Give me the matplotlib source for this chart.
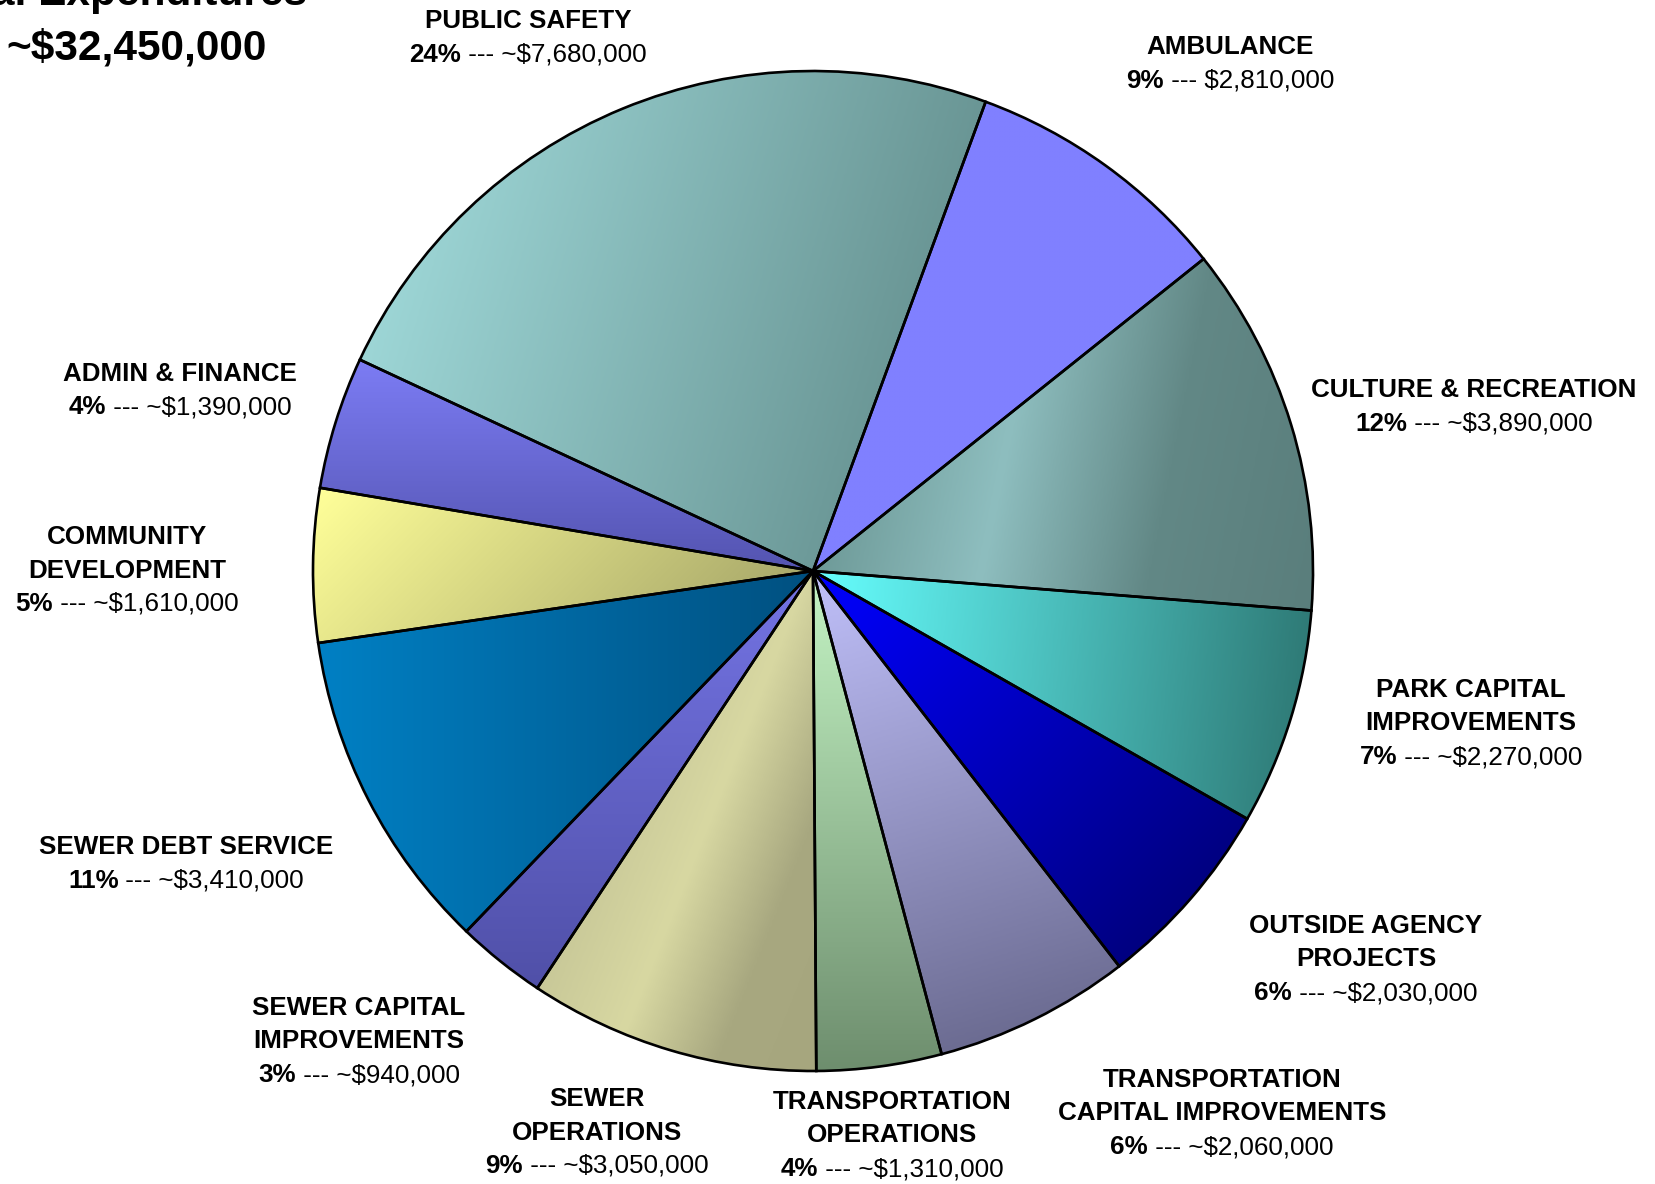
import numpy as np
import matplotlib
matplotlib.use("Agg")
import matplotlib.pyplot as plt
from matplotlib.colors import LinearSegmentedColormap

plt.rcParams['font.family'] = ['Liberation Sans', 'DejaVu Sans']

# data, clockwise from PUBLIC SAFETY
names = [
    "PUBLIC SAFETY",
    "AMBULANCE",
    "CULTURE & RECREATION",
    "PARK CAPITAL\nIMPROVEMENTS",
    "OUTSIDE AGENCY\nPROJECTS",
    "TRANSPORTATION\nCAPITAL IMPROVEMENTS",
    "TRANSPORTATION\nOPERATIONS",
    "SEWER\nOPERATIONS",
    "SEWER CAPITAL\nIMPROVEMENTS",
    "SEWER DEBT SERVICE",
    "COMMUNITY\nDEVELOPMENT",
    "ADMIN & FINANCE",
]
amounts = [7680000, 2810000, 3890000, 2270000, 2030000, 2060000,
           1310000, 3050000, 940000, 3410000, 1610000, 1390000]
approx = [True, False, True, True, True, True, True, True, True, True, True, True]
title_lines = ["Total Expenditures", "~$32,450,000"]

# look: gradient stops and direction per wedge
grad_colors = [
    ["#9DD6D6", "#6A9695"],
    ["#8080FF", "#8080FF"],
    ["#6E9A98", "#8EBEBF", "#628886", "#5A7E7C"],
    ["#66FFFF", "#2F7B77"],
    ["#0000FF", "#000080"],
    ["#C0C0FA", "#6C6C92"],
    ["#C4F4C4", "#6E8E6E"],
    ["#C8C898", "#D8D8A2", "#A8A880", "#A6A67E"],
    ["#7474E4", "#5050A8"],
    ["#0080C4", "#005080"],
    ["#FFFF99", "#A8A86A"],
    ["#7C7CF4", "#5454B0"],
]
grad_dirs = [(1, -0.3), (1, 0), (1, -0.2), (1, -0.1), (1, -1), (0.3, -1),
             (0, -1), (1, -0.4), (0, -1), (1, 0), (1, -1), (0, -1)]

# label centres in pixels (x, cap-centre y of first line)
label_pos = [(528, 19), (1230, 45), (1474, 388), (1471, 688), (1366, 924),
             (1222, 1078), (892, 1100), (597, 1097), (359, 1006), (186, 845),
             (127, 535), (180, 372)]

W, H = 1656, 1184
fig = plt.figure(figsize=(W / 100, H / 100), dpi=100)
cx, cy, r = 813, 571, 500
ax = fig.add_axes([(cx - r) / W, (H - cy - r) / H, 2 * r / W, 2 * r / H])

wedges, _ = ax.pie(amounts, startangle=155, counterclock=False, radius=1,
                   wedgeprops=dict(edgecolor="black", linewidth=1.9))
ax.set_xlim(-1, 1)
ax.set_ylim(-1, 1)
ax.axis("off")

n = 400
xs = np.linspace(-1, 1, n)
X, Y = np.meshgrid(xs, xs)
for w, cols, (dx, dy) in zip(wedges, grad_colors, grad_dirs):
    verts = w.get_path().vertices
    proj_v = verts[:, 0] * dx + verts[:, 1] * dy
    t = (X * dx + Y * dy - proj_v.min()) / (proj_v.max() - proj_v.min())
    cmap = LinearSegmentedColormap.from_list("g", cols)
    im = ax.imshow(cmap(np.clip(t, 0, 1)), extent=(-1, 1, -1, 1), origin="lower",
                   interpolation="bilinear", zorder=1)
    im.set_clip_path(w)
    w.set_facecolor("none")
    w.set_zorder(2)

fs = 18.7
line_h = 33.5
renderer = fig.canvas.get_renderer()


def fx(x):
    return x / W


def fy(y):
    return 1 - y / H


total = sum(amounts)
for name, amt, ap, (lx, ly) in zip(names, amounts, approx, label_pos):
    lines = name.split("\n")
    base = ly + 9
    for i, ln in enumerate(lines):
        fig.text(fx(lx), fy(base + i * line_h), ln, ha="center", va="baseline",
                 fontsize=fs, fontweight="bold")
    yb = fy(base + len(lines) * line_h)
    pct = f"{round(amt / total * 100)}%"
    rest = f" --- {'~' if ap else ''}${amt:,}"
    tb = fig.text(0, yb, pct, ha="left", va="baseline", fontsize=fs, fontweight="bold")
    tr = fig.text(0, yb, rest, ha="left", va="baseline", fontsize=fs)
    wb = tb.get_window_extent(renderer).width
    wr = tr.get_window_extent(renderer).width
    x0 = lx - (wb + wr) / 2
    tb.set_x(fx(x0))
    tr.set_x(fx(x0 + wb))

# title, partly off the top-left edge as in the original
fig.text(fx(307), fy(5), title_lines[0], ha="right", va="baseline",
         fontsize=30.5, fontweight="bold")
fig.text(fx(137), fy(60), title_lines[1], ha="center", va="baseline",
         fontsize=30.5, fontweight="bold")

fig.savefig("out.png", dpi=100, facecolor="white")
